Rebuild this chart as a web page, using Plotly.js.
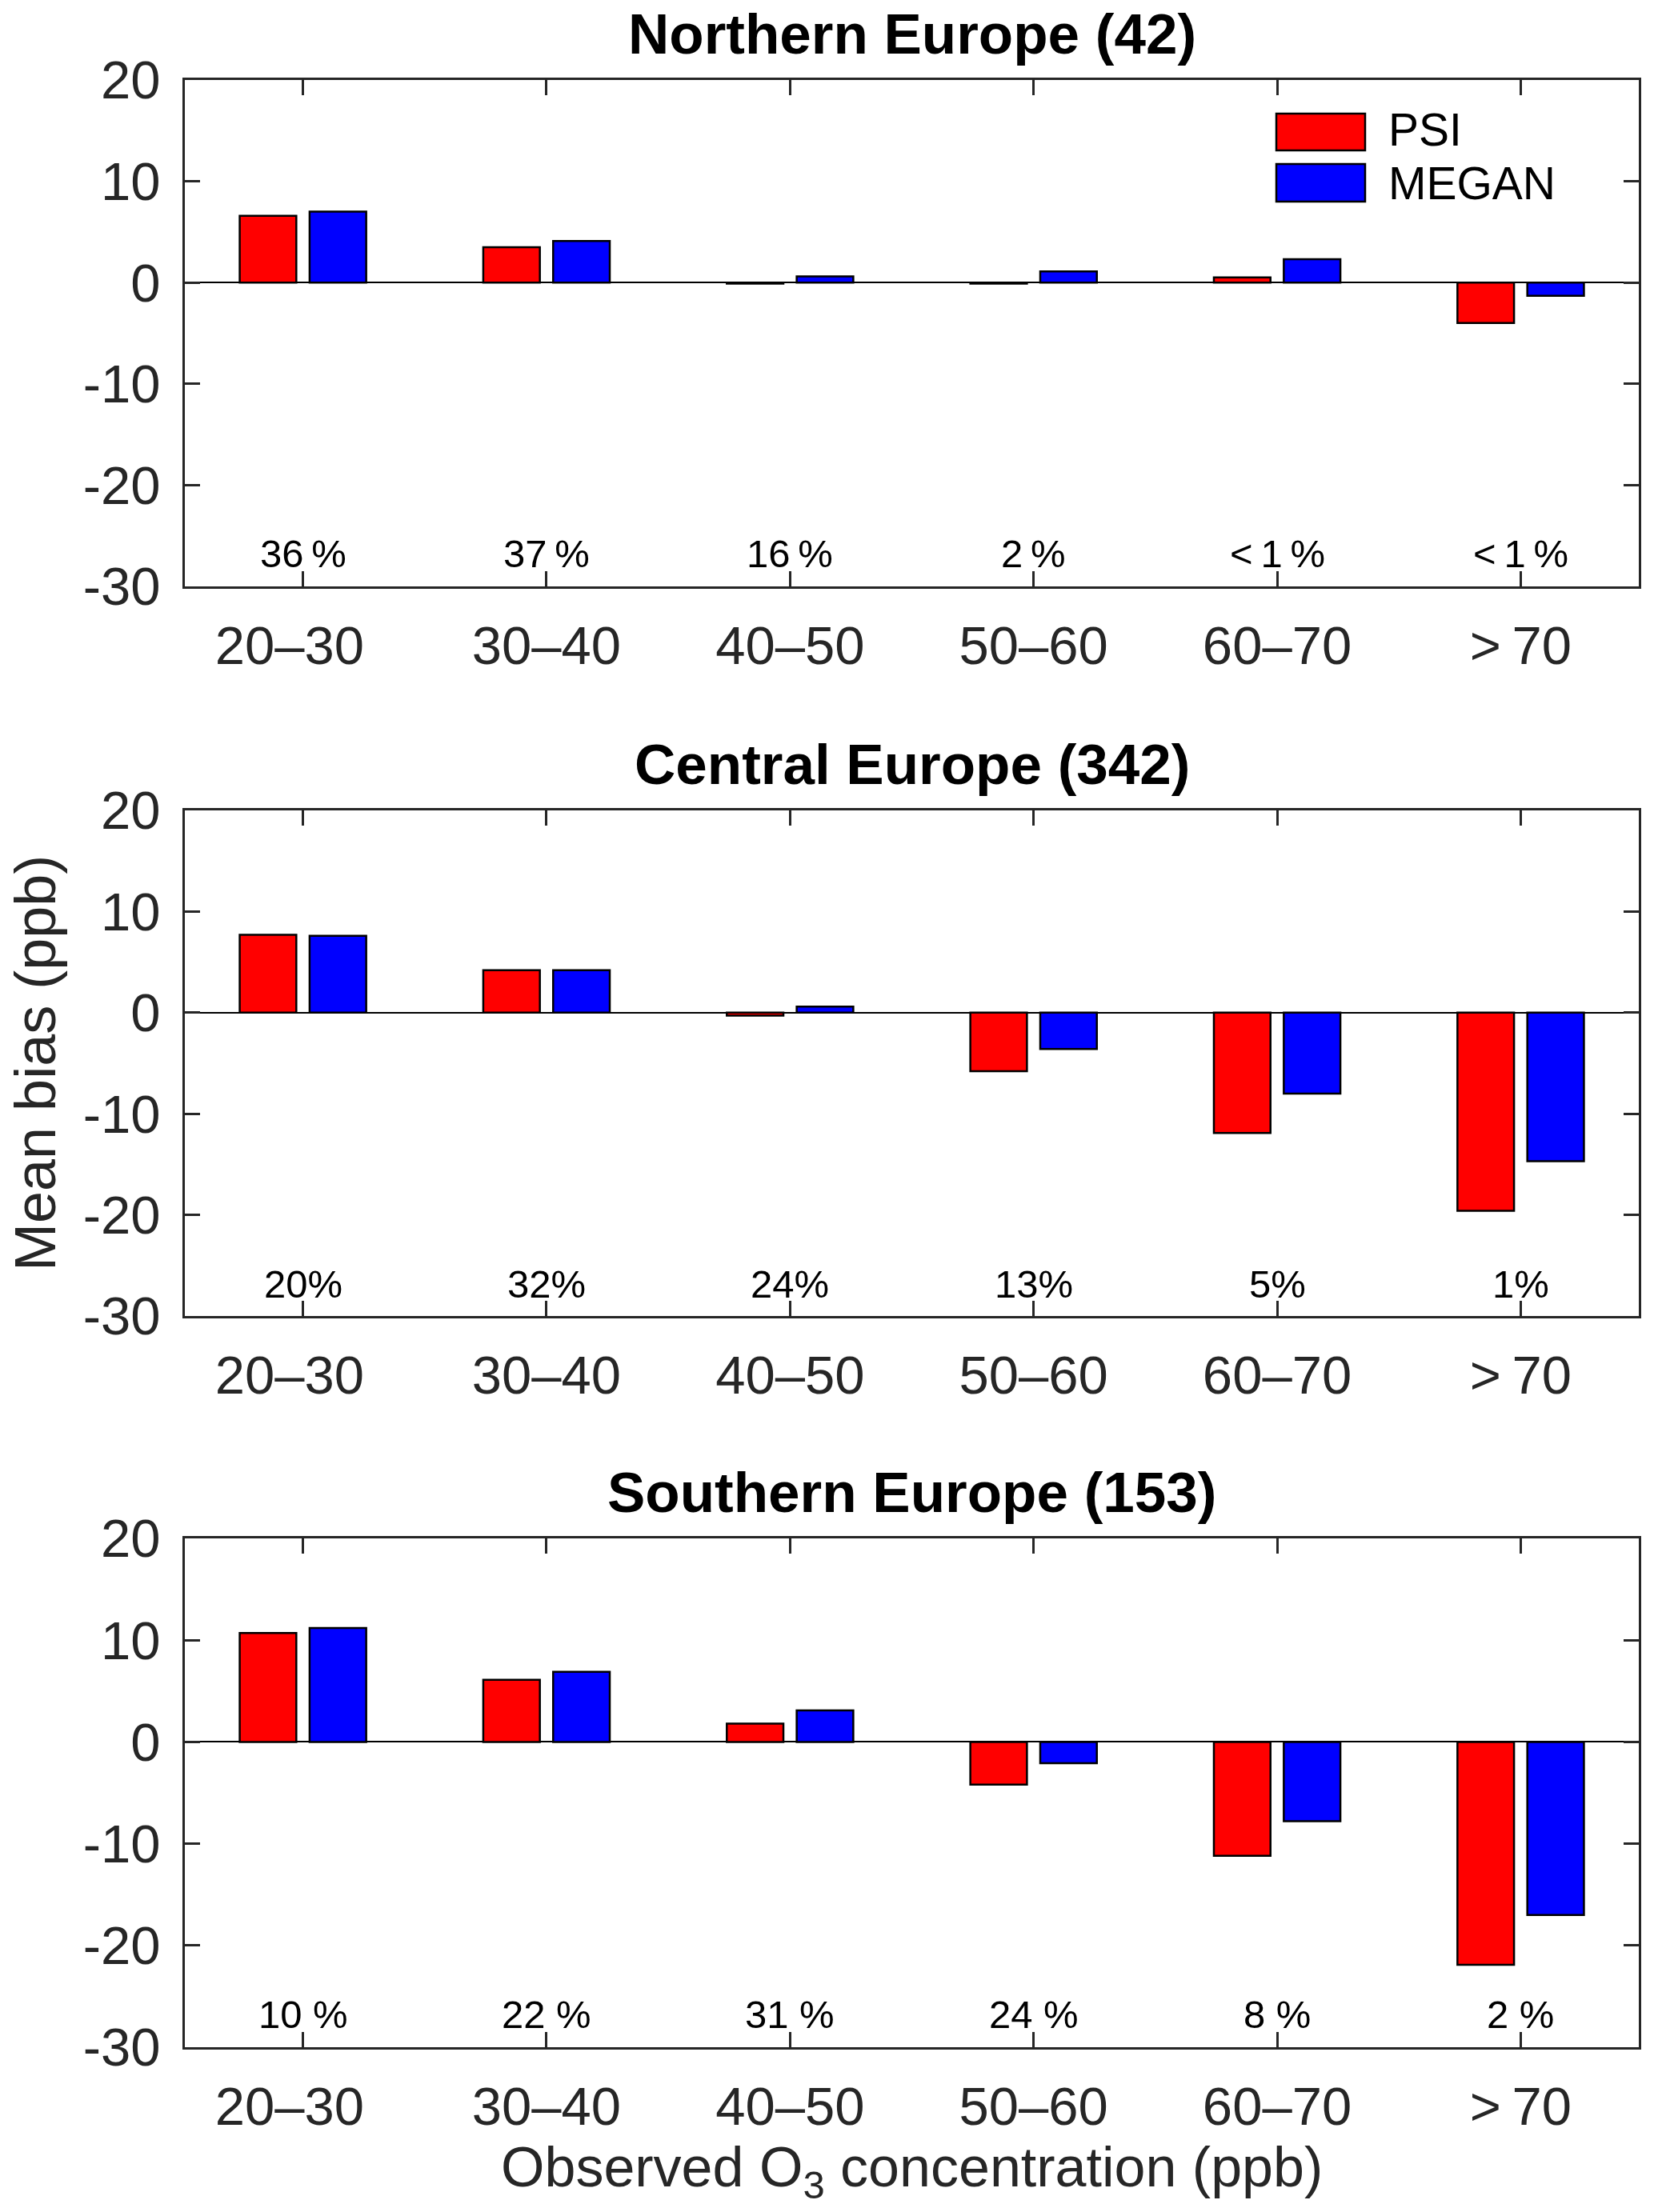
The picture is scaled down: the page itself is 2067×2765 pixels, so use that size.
<!DOCTYPE html>
<html>
<head>
<meta charset="utf-8">
<script src="https://cdn.plot.ly/plotly-3.0.1.min.js"></script>
<style>
  body { margin: 0; background: white; }
  #chart { width: 2067px; height: 2765px; }
</style>
</head>
<body>
<div id="chart"></div>
<script>
// observed O3 bins
var categories = ['20\u201330', '30\u201340', '40\u201350', '50\u201360', '60\u201370', '>\u200970'];
var categoryLabels = ['20\u201330\u2002', '30\u201340', '40\u201350', '50\u201360', '60\u201370', '>\u200970'];

// mean bias (ppb)
var northPSI     = [6.6, 3.5, -0.1, -0.1, 0.5, -4.0];
var northMEGAN   = [7.0, 4.1, 0.6, 1.1, 2.3, -1.3];
var centralPSI   = [7.7, 4.2, -0.3, -5.8, -11.9, -19.6];
var centralMEGAN = [7.6, 4.2, 0.6, -3.6, -8.0, -14.7];
var southPSI     = [10.7, 6.1, 1.8, -4.2, -11.2, -21.9];
var southMEGAN   = [11.2, 6.9, 3.1, -2.1, -7.8, -17.0];

// share of observations in each bin
var northShare   = ['36\u2009%', '37\u2009%', '16\u2009%', '2\u2009%', '<\u20091\u2009%', '<\u20091\u2009%'];
var centralShare = ['20%', '32%', '24%', '13%', '5%', '1%'];
var southShare   = ['10 %', '22 %', '31 %', '24 %', '8 %', '2 %'];

var panelTitles = ['Northern Europe (42)', 'Central Europe (342)', 'Southern Europe (153)'];
var yTicks = [-30, -20, -10, 0, 10, 20];
var yTickText = ['-30', '-20', '-10', '0', '10', '20'];

var W = 2067, H = 2765;
function px(x) { return x / W; }
function py(y) { return 1 - y / H; }

var FONT = 'Liberation Sans, Arial, Helvetica, sans-serif';
var AXC = '#262626';
var plotLeft = 231, plotRight = 2048;
var panelPix = [[100, 733], [1013, 1645], [1923, 2559]];

var psiSeries = [northPSI, centralPSI, southPSI];
var meganSeries = [northMEGAN, centralMEGAN, southMEGAN];
var shares = [northShare, centralShare, southShare];

var data = [];
var annotations = [];
var layout = {
  width: W,
  height: H,
  margin: {l: 0, r: 0, t: 0, b: 0},
  paper_bgcolor: 'white',
  plot_bgcolor: 'white',
  barmode: 'group',
  bargap: 0.426,
  bargroupgap: 0.19,
  showlegend: false,
  font: {family: FONT, color: AXC},
  shapes: []
};

for (var i = 0; i < 3; i++) {
  var sfx = i === 0 ? '' : String(i + 1);
  var xa = 'x' + sfx, ya = 'y' + sfx;

  data.push({
    x: categories, y: psiSeries[i], type: 'bar', name: 'PSI',
    xaxis: xa, yaxis: ya,
    marker: {color: '#ff0000', line: {color: 'black', width: 2.5}},
    hoverinfo: 'y'
  });
  data.push({
    x: categories, y: meganSeries[i], type: 'bar', name: 'MEGAN',
    xaxis: xa, yaxis: ya,
    marker: {color: '#0000ff', line: {color: 'black', width: 2.5}},
    hoverinfo: 'y'
  });

  layout['xaxis' + sfx] = {
    domain: [px(plotLeft), px(plotRight)],
    anchor: ya,
    type: 'category',
    range: [-0.485, 5.485],
    tickmode: 'array', tickvals: categories, ticktext: categoryLabels,
    showline: true, mirror: 'ticks', linecolor: AXC, linewidth: 3,
    ticks: 'inside', ticklen: 19, tickwidth: 3, tickcolor: AXC,
    tickfont: {family: FONT, size: 67, color: AXC},
    ticklabelstandoff: 14,
    showgrid: false, zeroline: false, fixedrange: true
  };
  layout['yaxis' + sfx] = {
    domain: [py(panelPix[i][1]), py(panelPix[i][0])],
    anchor: xa,
    range: [-30, 20],
    tickmode: 'array', tickvals: yTicks, ticktext: yTickText,
    showline: true, mirror: 'ticks', linecolor: AXC, linewidth: 3,
    ticks: 'inside', ticklen: 19, tickwidth: 3, tickcolor: AXC,
    tickfont: {family: FONT, size: 67, color: AXC},
    ticklabelstandoff: 14,
    showgrid: false,
    zeroline: true, zerolinecolor: 'black', zerolinewidth: 2,
    fixedrange: true
  };

  // panel title
  annotations.push({
    xref: 'paper', yref: 'paper',
    x: px((plotLeft + plotRight) / 2), y: py(panelPix[i][0]),
    xanchor: 'center', yanchor: 'bottom', yshift: 16,
    text: '<b>' + panelTitles[i] + '</b>',
    showarrow: false,
    font: {family: FONT, size: 71, color: 'black'}
  });

  // percentage of observations per bin
  shares[i].forEach(function (s, k) {
    annotations.push({
      xref: xa, yref: ya,
      x: categories[k], y: -26.8,
      xanchor: 'center', yanchor: 'middle',
      text: s, showarrow: false,
      font: {family: FONT, size: 49, color: 'black'}
    });
  });
}

// y axis title on the middle panel
annotations.push({
  xref: 'paper', yref: 'paper',
  x: px(44), y: py((panelPix[1][0] + panelPix[1][1]) / 2),
  xanchor: 'center', yanchor: 'middle',
  text: 'Mean bias (ppb)', textangle: -90, showarrow: false,
  font: {family: FONT, size: 72, color: AXC}
});

// x axis title under the bottom panel
annotations.push({
  xref: 'paper', yref: 'paper',
  x: px((plotLeft + plotRight) / 2), y: py(2714),
  xanchor: 'center', yanchor: 'middle',
  text: 'Observed O<sub>3</sub> concentration (ppb)', showarrow: false,
  font: {family: FONT, size: 70, color: AXC}
});

// legend drawn by hand to get the wide boxes
var legendItems = [
  {name: 'PSI', color: '#ff0000', top: 142, bottom: 188, mid: 162},
  {name: 'MEGAN', color: '#0000ff', top: 205, bottom: 252, mid: 229}
];
legendItems.forEach(function (it) {
  layout.shapes.push({
    type: 'rect', xref: 'paper', yref: 'paper',
    x0: px(1595), x1: px(1706), y0: py(it.bottom), y1: py(it.top),
    fillcolor: it.color, line: {color: 'black', width: 2.5}
  });
  annotations.push({
    xref: 'paper', yref: 'paper',
    x: px(1733), y: py(it.mid),
    xanchor: 'left', yanchor: 'middle',
    text: it.name, showarrow: false,
    font: {family: FONT, size: 57, color: 'black'}
  });
});

layout.annotations = annotations;

Plotly.newPlot('chart', data, layout, {staticPlot: true});
</script>
</body>
</html>
